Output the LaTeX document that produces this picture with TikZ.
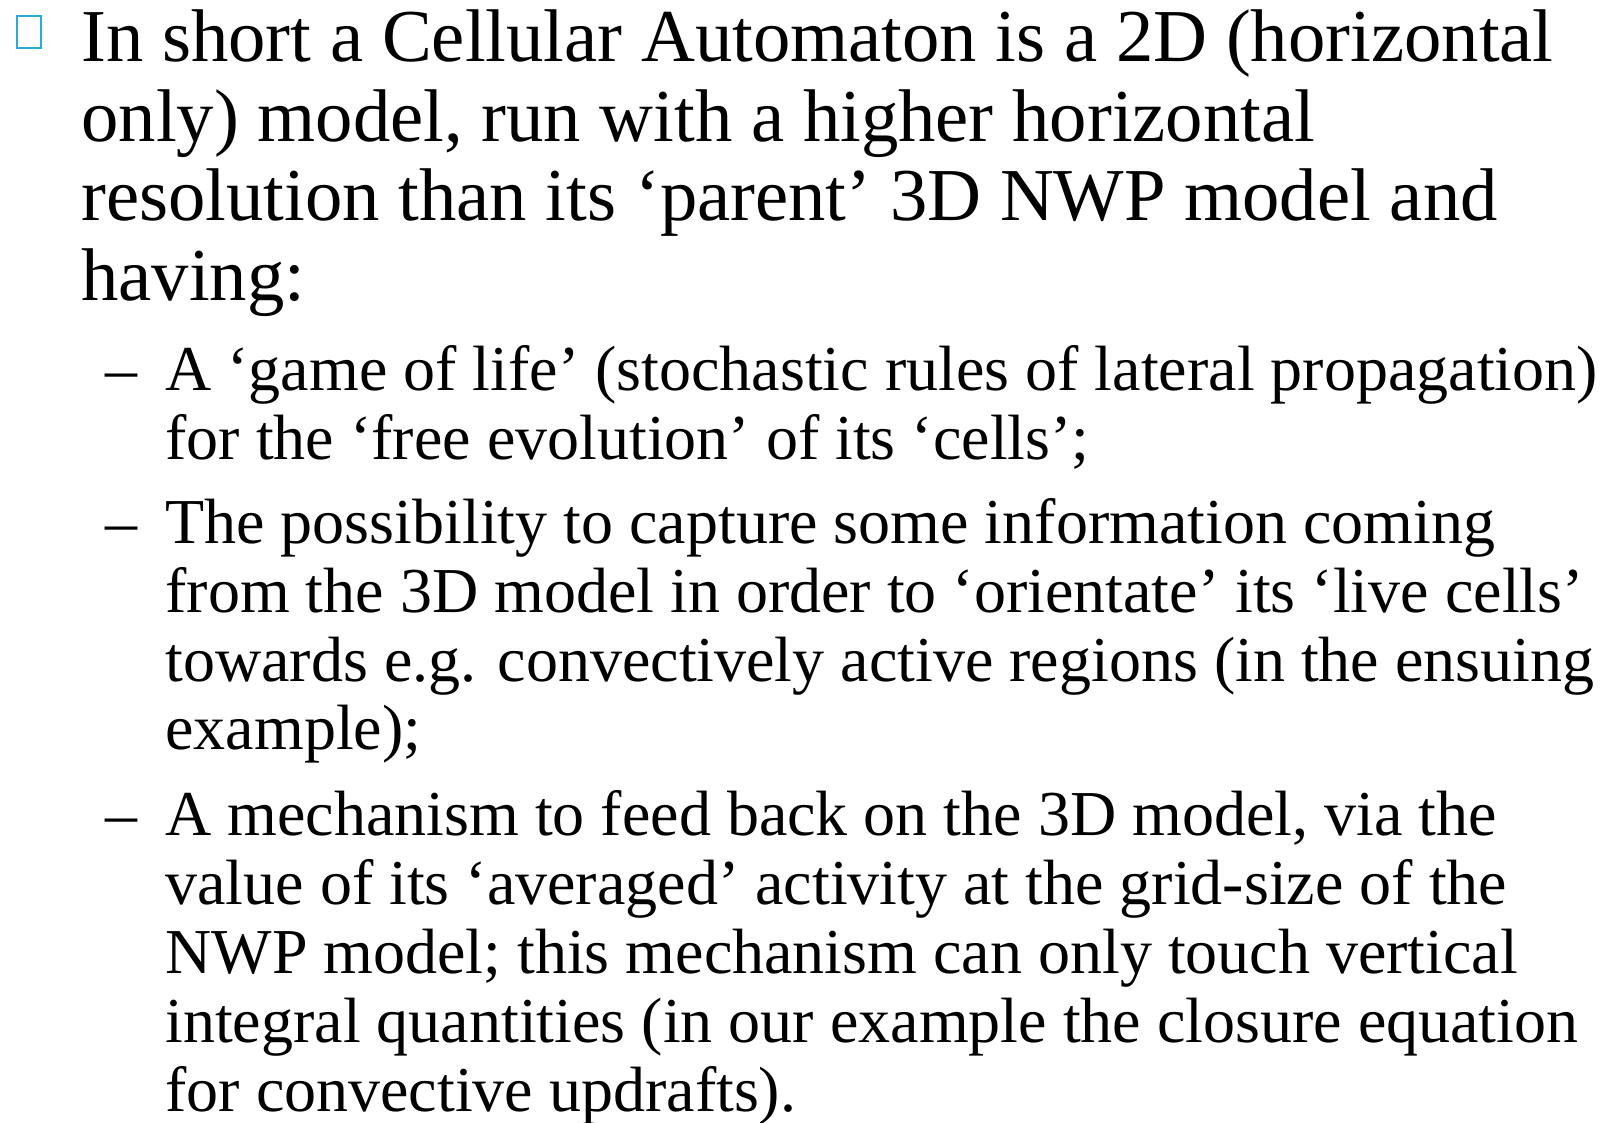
\documentclass[tikz,border=0pt]{standalone}
\usepackage{fontspec}
\setmainfont{Liberation Serif}
\usepackage{tikz}

\begin{document}
\begin{tikzpicture}[x=0.5pt,y=-0.5pt,
    mainline/.style={anchor=base west,inner sep=0pt,font=\fontsize{37.33}{45}\selectfont},
    subline/.style={anchor=base west,inner sep=0pt,font=\fontsize{32}{38}\selectfont}]
    \useasboundingbox (0,0) rectangle (1612,1123);
    \definecolor{bulletcyan}{RGB}{40,170,220}
    \draw[bulletcyan,line width=1pt] (16.5,16.5) rectangle (41,48);
    \node[mainline] (m1) at (81,62) {In short a Cellular Automaton is a 2D (horizontal};
    \node[mainline] (m2) at (81,142) {only) model, run with a higher horizontal};
    \node[mainline] (m3) at (81,221) {resolution than its ‘parent’ 3D NWP model and};
    \node[mainline] (m4) at (81,300) {having:};
    % first sub item
    \node[subline] (d1) at (105,390) {–};
    \node[subline] (a1) at (165,390) {A ‘game of life’ (stochastic rules of lateral propagation)};
    \node[subline] (a2) at (165,459) {for the ‘free evolution’ of its ‘cells’;};
    % second sub item
    \node[subline] (d2) at (105,543) {–};
    \node[subline] (b1) at (165,543) {The possibility to capture some information coming};
    \node[subline] (b2) at (165,612) {from the 3D model in order to ‘orientate’ its ‘live cells’};
    \node[subline] (b3) at (165,681) {towards e.g. convectively active regions (in the ensuing};
    \node[subline] (b4) at (165,749) {example);};
    % third sub item
    \node[subline] (d3) at (105,835) {–};
    \node[subline] (c1) at (165,835) {A mechanism to feed back on the 3D model, via the};
    \node[subline] (c2) at (165,904) {value of its ‘averaged’ activity at the grid-size of the};
    \node[subline] (c3) at (165,973) {NWP model; this mechanism can only touch vertical};
    \node[subline] (c4) at (165,1042) {integral quantities (in our example the closure equation};
    \node[subline] (c5) at (165,1111) {for convective updrafts).};
\end{tikzpicture}
\end{document}
